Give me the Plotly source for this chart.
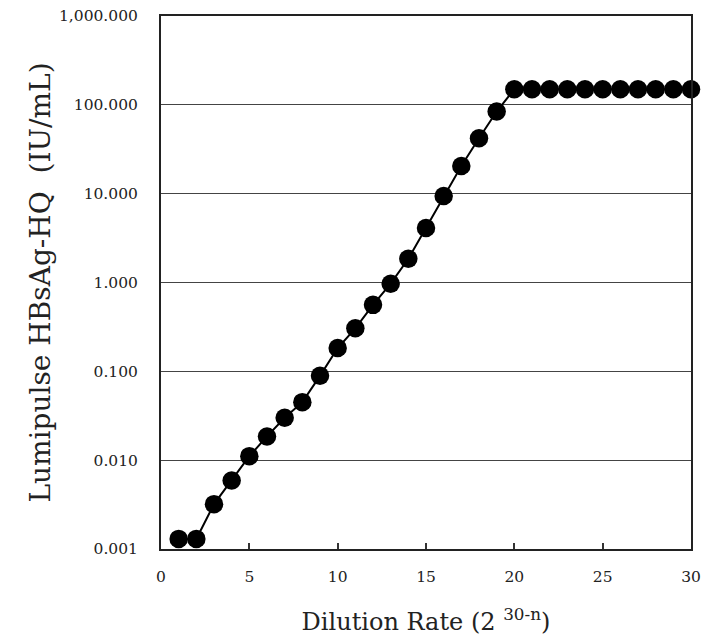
import plotly.graph_objects as go

dilution_n = list(range(1, 31))
hbsag_iu_ml = [0.0013, 0.0013, 0.0032, 0.0059, 0.0111, 0.0185, 0.030, 0.045, 0.089, 0.183,
               0.305, 0.56, 0.97, 1.85, 4.1, 9.4, 20.5, 42.0, 84.0, 150,
               150, 150, 150, 150, 150, 150, 150, 150, 150, 150]

y_tick_vals = [0.001, 0.01, 0.1, 1, 10, 100, 1000]
y_tick_text = ["0.001", "0.010", "0.100", "1.000", "10.000", "100.000", "1,000.000"]
x_tick_vals = [0, 5, 10, 15, 20, 25, 30]

FONT = "DejaVu Serif"

fig = go.Figure()
fig.add_trace(go.Scatter(
    x=dilution_n, y=hbsag_iu_ml, mode="lines+markers",
    line=dict(color="black", width=2),
    marker=dict(color="black", size=18.5),
    cliponaxis=False, showlegend=False,
))

# page body has an 8px default margin; figure sized so the page does not overflow the window
fig.update_layout(
    width=693, height=628,
    margin=dict(l=153, r=10, t=8, b=87),
    paper_bgcolor="white", plot_bgcolor="white",
    font=dict(family=FONT, color="#222"),
    xaxis=dict(
        range=[0, 30], tickvals=x_tick_vals, ticks="inside", ticklen=6,
        tickcolor="#333", tickwidth=1.5, automargin=False, ticklabeloverflow="allow",
        ticklabelstandoff=12,
        showgrid=False, zeroline=False,
        showline=True, linecolor="#222", linewidth=2, mirror=True,
        tickfont=dict(size=15.5, family=FONT),
        title=dict(text="Dilution Rate (2 <sup>30-n</sup>)", font=dict(size=24, family=FONT), standoff=30),
    ),
    yaxis=dict(
        type="log", range=[-3, 3], tickvals=y_tick_vals, ticktext=y_tick_text,
        ticks="", showgrid=True, gridcolor="#444", gridwidth=1.2, automargin=False,
        ticklabeloverflow="allow",
        zeroline=False, showline=True, linecolor="#222", linewidth=2, mirror=True,
        tickfont=dict(size=15.5, family=FONT), ticklabelstandoff=18,
        title=dict(text="Lumipulse HBsAg-HQ  (IU/mL)", font=dict(size=28, family=FONT), standoff=0),
    ),
)

fig.write_html("out.html")
